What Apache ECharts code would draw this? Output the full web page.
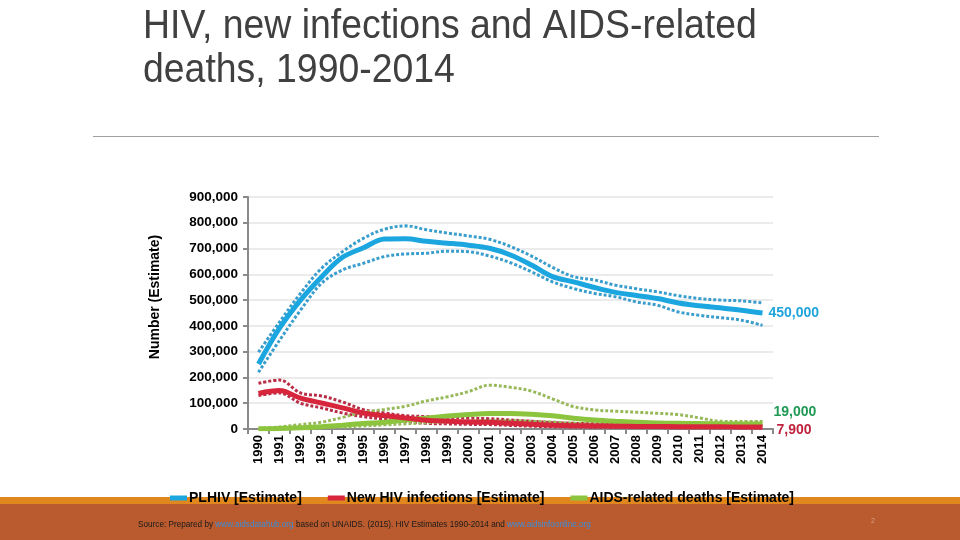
<!DOCTYPE html>
<html>
<head>
<meta charset="utf-8">
<script src="https://cdn.jsdelivr.net/npm/echarts@6/dist/echarts.min.js"></script>
<style>html,body{margin:0;padding:0;background:#fff;}#c{width:960px;height:540px;}</style>
</head>
<body>
<div id="c"></div>
<script>
var years = ['1990','1991','1992','1993','1994','1995','1996','1997','1998','1999','2000','2001','2002','2003','2004','2005','2006','2007','2008','2009','2010','2011','2012','2013','2014'];
var yTicks = [0,100000,200000,300000,400000,500000,600000,700000,800000,900000];

var plhiv      = [252000,391000,500000,590000,666000,703000,737000,738000,728000,721000,713000,701000,675000,636000,591000,571000,549000,530000,518000,506000,489000,478000,470000,461000,450000];
var plhivHigh  = [298000,415000,526000,623000,688000,740000,775000,788000,773000,760000,749000,736000,708000,671000,627000,591000,578000,558000,544000,532000,517000,506000,500000,497000,489000];
var plhivLow   = [220000,344000,461000,565000,617000,643000,669000,679000,682000,690000,688000,671000,645000,610000,571000,545000,526000,513000,493000,480000,454000,441000,432000,422000,402000];

var newInf     = [138000,149000,120000,101000,82000,62000,52000,43000,34000,30000,27000,26000,22000,18000,15000,13000,12000,11000,10000,9500,9000,8700,8400,8100,7900];
var newInfHigh = [177000,190000,140000,128000,105000,75000,62000,52000,48000,45000,42000,40000,35000,30000,25000,22000,20000,19000,18000,17000,16000,15000,14000,13500,13000];
var newInfLow  = [130000,140000,100000,82000,62000,48000,38000,30000,22000,20000,18000,17000,14000,11000,9000,8000,7000,6500,6000,5500,5000,5000,4500,4500,4000];

var deaths     = [1000,2000,5000,9000,15000,21000,26000,35000,42000,50000,56000,60000,60000,57000,51000,42000,35000,30000,26000,23000,22000,21000,20000,19500,19000];
var deathsHigh = [2000,8000,17000,26000,45000,65000,76000,88000,109000,125000,145000,170000,162000,147000,117000,87000,74000,69000,65000,61000,56000,43000,30000,29000,29000];
var deathsLow  = [0,1000,3000,5000,8000,12000,16000,20000,24000,27000,30000,32000,32000,30000,27000,22000,19000,17000,15000,14000,13000,12000,12000,11500,11000];

var endLabels = ['450,000','19,000','7,900'];

var C_BLUE='#1ca6e0', C_BLUE_D='#3a9ecd';
var C_RED='#d7263b', C_RED_D='#b82c45';
var C_GREEN='#8cc43e', C_GREEN_D='#98b95a';
var FONT='Liberation Sans, Arial';

function band(name, data, color){
  return {name:name, type:'line', data:data, smooth:0.35, symbol:'none', silent:true,
    lineStyle:{color:color, width:3, type:[3,2]}, z:2};
}
function main(name, data, color, lab, labColor, off){
  return {name:name, type:'line', data:data, smooth:0.35, symbol:'none',
    itemStyle:{color:color},
    lineStyle:{color:color, width:5}, z:3,
    endLabel:{show:true, formatter:lab, color:labColor, fontFamily:FONT, fontWeight:'bold', fontSize:14, distance:6, offset:off}};
}

var chart = echarts.init(document.getElementById('c'), null, {renderer:'canvas'});
chart.setOption({
  animation:false,
  backgroundColor:'#fff',
  grid:{left:248, right:187, top:197, bottom:111, containLabel:false},
  legend:{
    data:['PLHIV [Estimate]','New HIV infections [Estimate]','AIDS-related deaths [Estimate]'],
    left:170, top:491, padding:0, itemGap:26, itemWidth:17, itemHeight:5, icon:'rect',
    textStyle:{color:'#000', fontFamily:FONT, fontWeight:'bold', fontSize:14, padding:[0,0,0,-3]}
  },
  xAxis:{type:'category', data:years, boundaryGap:true,
    axisLine:{lineStyle:{color:'#8a8a8a', width:2}},
    axisTick:{show:true, lineStyle:{color:'#8a8a8a', width:2}, length:5},
    axisLabel:{rotate:90, color:'#000', fontFamily:FONT, fontWeight:'bold', fontSize:13, margin:6, interval:0}
  },
  yAxis:{type:'value', min:0, max:900000, interval:100000,
    axisLine:{show:true, lineStyle:{color:'#8a8a8a', width:2}},
    axisTick:{show:true, inside:false, length:5, lineStyle:{color:'#8a8a8a', width:2}},
    splitLine:{lineStyle:{color:'#ebebeb', width:2}},
    axisLabel:{color:'#000', fontFamily:FONT, fontWeight:'bold', fontSize:13.5, margin:10,
      formatter:function(v){ return yTicks.indexOf(v)>=0 ? v.toLocaleString('en-US') : ''; }}
  },
  series:[
    band('plhivHigh', plhivHigh, C_BLUE_D),
    band('plhivLow', plhivLow, C_BLUE_D),
    band('newInfHigh', newInfHigh, C_RED_D),
    band('newInfLow', newInfLow, C_RED_D),
    band('deathsHigh', deathsHigh, C_GREEN_D),
    band('deathsLow', deathsLow, C_GREEN_D),
    main('AIDS-related deaths [Estimate]', deaths, C_GREEN, endLabels[1], '#1f9a55', [5,-12]),
    main('New HIV infections [Estimate]', newInf, C_RED, endLabels[2], '#c0223d', [8,3]),
    main('PLHIV [Estimate]', plhiv, C_BLUE, endLabels[0], '#1ea4dc', [0,0])
  ],
  graphic:[
    {type:'text', x:143, y:6, scaleX:0.912, style:{text:'HIV, new infections and AIDS-related', font:'41px Arial, "Liberation Sans"', fill:'#404040'}},
    {type:'text', x:143, y:50, scaleX:0.912, style:{text:'deaths, 1990-2014', font:'41px Arial, "Liberation Sans"', fill:'#404040'}},
    {type:'rect', shape:{x:93, y:136, width:786, height:1}, style:{fill:'#a0a0a0'}},
    {type:'text', x:155, y:297, rotation:Math.PI/2, style:{text:'Number (Estimate)', font:'bold 14px Arial, "Liberation Sans"', fill:'#000', align:'center', verticalAlign:'middle'}},
    {type:'rect', shape:{x:0, y:497, width:960, height:43}, style:{fill:'#b95b2e'}, z:-1},
    {type:'rect', shape:{x:0, y:497, width:960, height:7}, style:{fill:'#e0881e'}, z:-1},
    {type:'text', x:138, y:521, style:{
      text:'{a|Source: Prepared by }{l|www.aidsdatahub.org}{a| based on UNAIDS. (2015). HIV Estimates 1990-2014 and }{l|www.aidsinfoonline.org}',
      rich:{a:{font:'8.2px Arial', fill:'#1a1a1a'}, l:{font:'8.2px Arial', fill:'#3d8ed8', textDecoration:'underline'}}
    }},
    {type:'text', x:871, y:518, style:{text:'2', font:'7px Arial', fill:'#d9a080'}}
  ]
});
</script>
</body>
</html>
